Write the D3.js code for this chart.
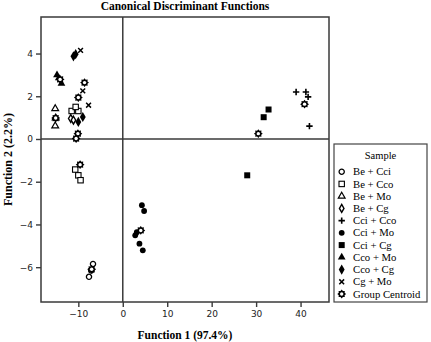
<!DOCTYPE html>
<html><head><meta charset="utf-8">
<script src="https://cdn.jsdelivr.net/npm/d3@7"></script>
<style>body{margin:0;background:#fff}svg{display:block}</style>
</head><body>
<svg id="c" width="431" height="342"></svg>
<script>
const title = "Canonical Discriminant Functions";
const xLabel = "Function 1 (97.4%)";
const yLabel = "Function 2 (2.2%)";
const xTicks = [-10, 0, 10, 20, 30, 40];
const yTicks = [-6, -4, -2, 0, 2, 4];
const groups = ["Be + Cci","Be + Cco","Be + Mo","Be + Cg","Cci + Cco","Cci + Mo","Cci + Cg","Cco + Mo","Cco + Cg","Cg + Mo"];
const legendLabels = ["Be + Cci","Be + Cco","Be + Mo","Be + Cg","Cci + Cco","Cci + Mo","Cci + Cg","Cco + Mo","Cco + Cg","Cg + Mo","Group Centroid"];
// sample points per group: [x, y]
const beCci  = [[-6.7,-5.85],[-7.1,-6.15],[-7.6,-6.45]];
const beCco  = [[-10.7,-1.43],[-10.0,-1.7],[-9.5,-1.93],[-11.5,1.31],[-10.0,1.31],[-10.6,1.5]];
const beMo   = [[-15.2,1.42],[-15.2,0.61],[-15.1,0.98]];
const beCg   = [[-11.7,0.96],[-11.1,0.88]];
const cciCco = [[39.0,2.2],[41.2,2.2],[41.7,1.97],[42.0,0.6]];
const cciMo  = [[4.3,-3.1],[4.8,-3.37],[3.15,-4.36],[2.8,-4.51],[3.75,-4.9],[4.5,-5.21]];
const cciCg  = [[32.8,1.38],[31.7,1.02],[28.0,-1.7]];
const ccoMo  = [[-14.8,3.0],[-14.4,2.85],[-13.8,2.6]];
const ccoCg  = [[-11.1,3.87],[-10.6,3.97],[-10.0,0.8],[-9.0,1.03]];
const cgMo   = [[-9.5,4.15],[-9.0,2.25],[-7.7,1.58]];
const centroids = [[-7.0,-6.1],[-9.6,-1.2],[-15.1,0.98],[-10.1,0.25],[40.9,1.63],[4.05,-4.28],[30.5,0.25],[-14.1,2.79],[-10.0,1.94],[-8.6,2.64],[-10.5,0.02]];
const series = [beCci,beCco,beMo,beCg,cciCco,cciMo,cciCg,ccoMo,ccoCg,cgMo];

const svg = d3.select("#c");
const L=41, T=17, R=329, B=302;
const x = d3.scaleLinear().domain([-18.4,46.4]).range([L,R]);
const y = d3.scaleLinear().domain([-7.63,5.71]).range([B,T]);
const ink = "#000", axisCol = "#3a3a3a";

function star(r){
  const pts=[]; const n=8;
  for(let i=0;i<2*n;i++){const a=Math.PI*i/n; const rr=i%2?r*0.72:r; pts.push([Math.sin(a)*rr,-Math.cos(a)*rr]);}
  return "M"+pts.map(p=>p.join(",")).join("L")+"Z";
}
function drawSym(g, i, cx, cy){
  const s = g.append("g").attr("transform",`translate(${cx},${cy})`);
  switch(i){
    case 0: s.append("circle").attr("r",2.6).attr("fill","#fff").attr("stroke",ink).attr("stroke-width",1.3); break;
    case 1: s.append("rect").attr("x",-2.7).attr("y",-2.7).attr("width",5.4).attr("height",5.4).attr("fill","#fff").attr("stroke",ink).attr("stroke-width",1.1); break;
    case 2: s.append("path").attr("d",d3.symbol(d3.symbolTriangle,20)()).attr("fill","#fff").attr("stroke",ink).attr("stroke-width",1.2); break;
    case 3: s.append("path").attr("d",d3.symbol(d3.symbolDiamond,18)()).attr("fill","#fff").attr("stroke",ink).attr("stroke-width",1.4); break;
    case 4: s.append("path").attr("d","M-3.2,0H3.2M0,-3.2V3.2").attr("stroke",ink).attr("stroke-width",1.6); break;
    case 5: s.append("circle").attr("r",2.9).attr("fill",ink); break;
    case 6: s.append("rect").attr("x",-3).attr("y",-3).attr("width",6).attr("height",6).attr("fill",ink); break;
    case 7: s.append("path").attr("d",d3.symbol(d3.symbolTriangle,26)()).attr("fill",ink); break;
    case 8: s.append("path").attr("d",d3.symbol(d3.symbolDiamond,30)()).attr("fill",ink); break;
    case 9: s.append("path").attr("d","M-2.4,-2.4L2.4,2.4M-2.4,2.4L2.4,-2.4").attr("stroke",ink).attr("stroke-width",1.5); break;
    case 10: s.append("path").attr("d",star(4.4)).attr("fill",ink);
             s.append("circle").attr("r",1.7).attr("fill","#fff"); break;
  }
}

const gx = svg.append("g").attr("transform",`translate(0,${B})`)
  .call(d3.axisBottom(x).tickValues(xTicks).tickSize(5).tickPadding(4));
const gy = svg.append("g").attr("transform",`translate(${L},0)`)
  .call(d3.axisLeft(y).tickValues(yTicks).tickSize(5).tickPadding(3));
[gx,gy].forEach(g=>{
  g.select(".domain").remove();
  g.selectAll("line").attr("stroke",axisCol).attr("stroke-width",1.4);
  g.selectAll("text").attr("font-family","DejaVu Sans").attr("font-size",9).attr("fill","#222");
});

svg.append("rect").attr("x",L).attr("y",T).attr("width",R-L).attr("height",B-T)
  .attr("fill","none").attr("stroke",axisCol).attr("stroke-width",1.5);
svg.append("line").attr("x1",x(0)).attr("x2",x(0)).attr("y1",T).attr("y2",B).attr("stroke",axisCol).attr("stroke-width",1.5);
svg.append("line").attr("x1",L).attr("x2",R).attr("y1",y(0)).attr("y2",y(0)).attr("stroke",axisCol).attr("stroke-width",1.5);

const gp = svg.append("g");
series.forEach((pts,i)=>pts.forEach(p=>drawSym(gp,i,x(p[0]),y(p[1]))));
centroids.forEach(p=>drawSym(gp,10,x(p[0]),y(p[1])));

svg.append("text").attr("x",(L+R)/2).attr("y",10).attr("text-anchor","middle")
  .attr("font-family","Liberation Serif").attr("font-weight","bold").attr("font-size",11.5).text(title);
svg.append("text").attr("x",(L+R)/2).attr("y",339).attr("text-anchor","middle")
  .attr("font-family","Liberation Serif").attr("font-weight","bold").attr("font-size",11.5).text(xLabel);
svg.append("text").attr("transform",`translate(12,${(T+B)/2}) rotate(-90)`).attr("text-anchor","middle")
  .attr("font-family","Liberation Serif").attr("font-weight","bold").attr("font-size",12).text(yLabel);

const lg = svg.append("g");
lg.append("rect").attr("x",334).attr("y",144).attr("width",93).attr("height",158)
  .attr("fill","#fff").attr("stroke","#444").attr("stroke-width",1.2);
lg.append("text").attr("x",380.5).attr("y",158.5).attr("text-anchor","middle")
  .attr("font-family","Liberation Serif").attr("font-size",10.5).text("Sample");
legendLabels.forEach((t,i)=>{
  const cy = 171.7 + i*12.23;
  drawSym(lg,i,341.7,cy);
  lg.append("text").attr("x",353).attr("y",cy+3.6).attr("font-family","Liberation Serif")
    .attr("font-size",10.7).text(t);
});
</script>
</body></html>
